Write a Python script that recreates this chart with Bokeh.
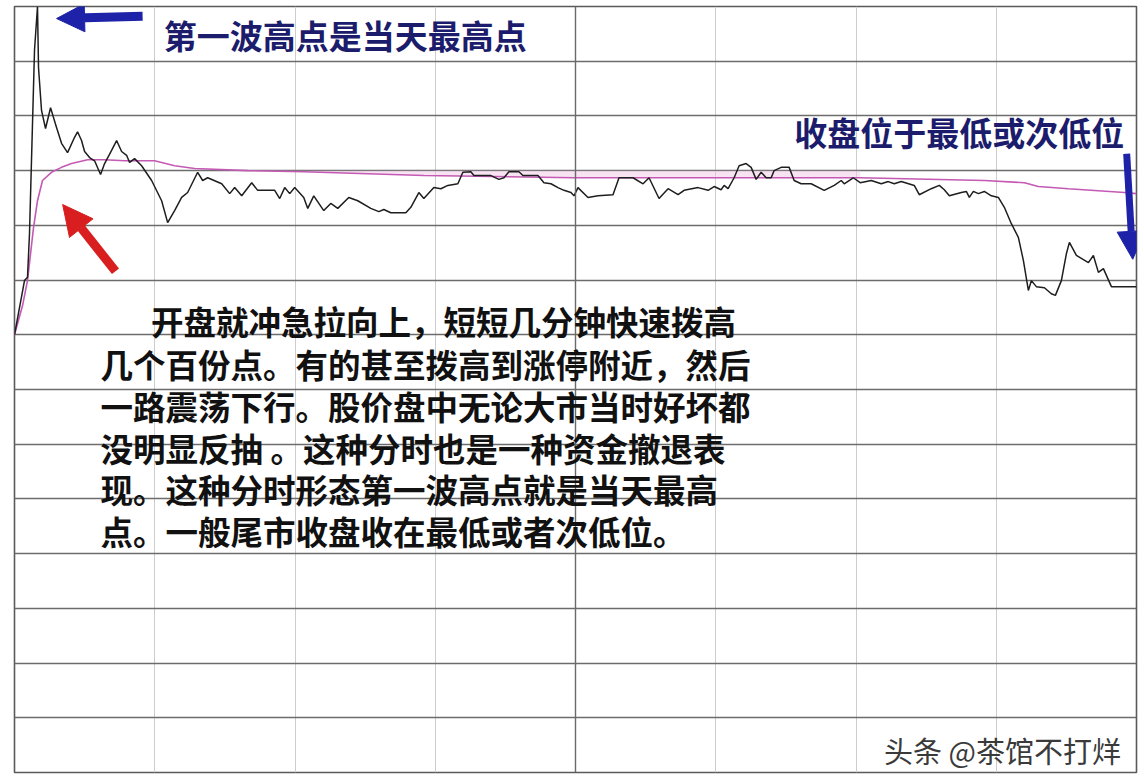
from bokeh.plotting import figure
from bokeh.models import Label, Arrow, NormalHead, Span, FixedTicker
from bokeh.embed import file_html
from bokeh.resources import INLINE

# ---------------- data (minutes since open, % change vs. previous close) ----------------
price_min = [0, 2.14, 2.78, 3.21, 4.28, 4.92, 5.14, 5.78, 6.64, 7.71, 8.99, 10.06, 11.35, 12.85,
             13.49, 14.34, 14.99, 16.06, 17.13, 18.41, 19.27, 20.77, 21.84, 22.91, 23.98, 24.62,
             25.69, 27.19, 29.33, 31.47, 32.76, 34.25, 35.75, 37.04, 39.18, 40.25, 41.32, 44.32,
             46.03, 47.10, 48.60, 50.74, 52.02, 55.66, 56.73, 57.80, 58.87, 59.94, 61.87, 62.73,
             64.01, 66.15, 67.65, 69.15, 71.50, 73.43, 76.21, 77.93, 79.00, 80.50, 83.71, 84.78,
             86.49, 87.56, 89.70, 91.20, 92.70, 94.84, 95.91, 97.62, 98.27, 101.91, 103.62, 104.69,
             105.76, 107.90, 108.76, 111.97, 113.25, 114.75, 116.25, 117.53, 119.03, 119.68, 120.53,
             122.67, 124.81, 128.02, 129.31, 132.30, 134.45, 135.73, 137.87, 139.80, 141.94, 143.22,
             146.22, 148.36, 149.65, 151.15, 151.79, 152.64, 153.93, 155.00, 156.50, 157.57, 158.64,
             159.71, 160.78, 161.85, 162.49, 163.99, 165.70, 166.77, 168.27, 170.41, 173.20, 175.34,
             176.84, 177.48, 179.41, 180.90, 183.26, 185.40, 186.90, 188.18, 189.68, 192.46, 193.53,
             196.10, 197.82, 198.89, 199.96, 202.53, 203.60, 204.24, 205.10, 206.17, 207.45, 208.95,
             210.45, 211.73, 213.23, 214.73, 215.80, 216.87, 217.51, 218.58, 220.30, 221.79, 222.65,
             223.93, 225.00, 225.65, 227.14, 229.71, 230.78, 231.85, 232.92, 234.63, 240.0]
price_pct = [0.0, 0.99, 1.05, 1.85, 5.20, 6.0, 4.88, 4.10, 3.77, 4.15, 3.79, 3.50, 3.33, 3.61,
             3.71, 3.55, 3.35, 3.24, 3.18, 2.93, 3.13, 3.37, 3.55, 3.35, 3.28, 3.15,
             3.22, 3.09, 2.82, 2.45, 2.05, 2.27, 2.51, 2.60, 2.97, 2.82, 2.87, 2.76,
             2.58, 2.69, 2.54, 2.78, 2.64, 2.64, 2.49, 2.69, 2.58, 2.69, 2.51, 2.31,
             2.54, 2.27, 2.40, 2.31, 2.51, 2.45, 2.31, 2.25, 2.29, 2.23, 2.23, 2.33,
             2.60, 2.49, 2.69, 2.67, 2.73, 2.76, 2.97, 2.98, 2.91, 2.91, 2.84, 2.87,
             2.98, 2.98, 2.91, 2.91, 2.78, 2.76, 2.69, 2.64, 2.60, 2.54, 2.69,
             2.51, 2.54, 2.56, 2.87, 2.87, 2.76, 2.87, 2.49, 2.67, 2.56, 2.64,
             2.69, 2.64, 2.71, 2.65, 2.73, 2.67, 2.87, 3.09, 3.13, 3.06, 2.84,
             2.97, 2.87, 2.87, 3.00, 3.06, 3.06, 2.82, 2.76, 2.76, 2.64, 2.73,
             2.82, 2.76, 2.87, 2.78, 2.82, 2.76, 2.80, 2.76, 2.80, 2.73, 2.56,
             2.67, 2.73, 2.65, 2.54, 2.60, 2.62, 2.51, 2.62, 2.58, 2.62, 2.54,
             2.51, 2.33, 2.03, 1.78, 1.36, 0.81, 0.99, 0.88, 0.86, 0.75, 0.72,
             0.99, 1.48, 1.69, 1.45, 1.32, 1.45, 1.14, 1.21, 0.88, 0.88]

avg_min = [0, 1.71, 2.78, 4.07, 4.92, 5.99, 7.92, 10.06, 12.20, 15.63, 19.27, 23.55, 29.97, 34.25,
           38.54, 49.88, 61.87, 87.56, 119.68, 161.85, 180.90, 207.45, 216.02, 219.01, 225.43,
           237.42, 240.0]
avg_pct = [0.0, 0.53, 0.99, 1.96, 2.45, 2.82, 2.97, 3.06, 3.13, 3.20, 3.20, 3.18, 3.18, 3.09,
           3.04, 3.00, 2.98, 2.91, 2.87, 2.87, 2.87, 2.82, 2.78, 2.71, 2.67,
           2.60, 2.58]

y_ticks = [-7, -6, -5, -4, -3, -2, -1, 0, 1, 2, 3, 4, 5]
x_ticks = [30, 60, 90, 150, 180, 210]
midday = 120

title_high = "第一波高点是当天最高点"
title_close = "收盘位于最低或次低位"
body_lines = [
    "开盘就冲急拉向上，短短几分钟快速拨高",
    "几个百份点。有的甚至拨高到涨停附近，然后",
    "一路震荡下行。股价盘中无论大市当时好坏都",
    "没明显反抽 。这种分时也是一种资金撤退表",
    "现。这种分时形态第一波高点就是当天最高",
    "点。一般尾市收盘收在最低或者次低位。",
]
watermark = "头条 @茶馆不打烊"

# ---------------- figure ----------------
p = figure(width=1140, height=776, x_range=(0, 240), y_range=(-8, 6),
           output_backend="svg", toolbar_location=None,
           x_axis_location=None, y_axis_location=None,
           min_border_left=14, min_border_right=4, min_border_top=6, min_border_bottom=4)
p.background_fill_color = "white"
p.border_fill_color = "white"
p.outline_line_color = "#5a5a5a"
p.outline_line_width = 1.6

p.ygrid.ticker = FixedTicker(ticks=y_ticks)
p.ygrid.grid_line_color = "#6c6c6c"
p.ygrid.grid_line_width = 1.4
p.xgrid.ticker = FixedTicker(ticks=x_ticks)
p.xgrid.grid_line_color = "#cdcdcd"
p.xgrid.grid_line_width = 1.0
p.add_layout(Span(location=midday, dimension="height", line_color="#6a6a6a", line_width=1.4))

# faint pink band between the 3% line and the average line
band = [(m, a) for m, a in zip(avg_min, avg_pct) if 45 <= m <= 200]
p.varea(x=[b[0] for b in band], y1=[b[1] for b in band], y2=[3.0] * len(band),
        fill_color="#f0c8e6", fill_alpha=0.5)

p.line(avg_min, avg_pct, line_color="#c45ab4", line_width=1.6)
p.line(price_min, price_pct, line_color="#1e1e1e", line_width=1.5)

# ---------------- arrows ----------------
arrow_specs = [
    # x_start, y_start, x_end, y_end, colour, shaft width, head size
    (27.4, 5.82, 9.0, 5.78, "#1d22a8", 9, 28),
    (21.6, 1.16, 10.3, 2.38, "#d81e1e", 9, 30),
    (237.9, 3.31, 239.2, 1.38, "#1d22a8", 7, 28),
]
for xs, ys, xe, ye, c, lw, hs in arrow_specs:
    p.add_layout(Arrow(end=NormalHead(size=hs, fill_color=c, line_color=c, line_width=1),
                       x_start=xs, y_start=ys, x_end=xe, y_end=ye,
                       line_color=c, line_width=lw))

# ---------------- texts ----------------
cjk = "Noto Sans CJK SC"
p.add_layout(Label(x=31.9, y=5.47, text=title_high, text_font=cjk, text_font_size="33px",
                   text_font_style="bold", text_color="#1c1c6c",
                   text_align="left", text_baseline="middle"))
p.add_layout(Label(x=166.8, y=3.70, text=title_close, text_font=cjk, text_font_size="33px",
                   text_font_style="bold", text_color="#1c1c6c",
                   text_align="left", text_baseline="middle"))

body_y = [0.26, -0.53, -1.30, -2.06, -2.81, -3.58]
body_x = [29.2, 18.4, 18.4, 18.4, 18.4, 18.4]
for t, bx, by in zip(body_lines, body_x, body_y):
    p.add_layout(Label(x=bx, y=by, text=t, text_font=cjk, text_font_size="32.5px",
                       text_font_style="bold", text_color="#111111",
                       text_align="left", text_baseline="middle"))

p.add_layout(Label(x=186.0, y=-7.58, text=watermark, text_font=cjk, text_font_size="29px",
                   text_color="#3a3a3a", text_align="left", text_baseline="middle"))

open("out.html", "w").write(file_html(p, INLINE))
